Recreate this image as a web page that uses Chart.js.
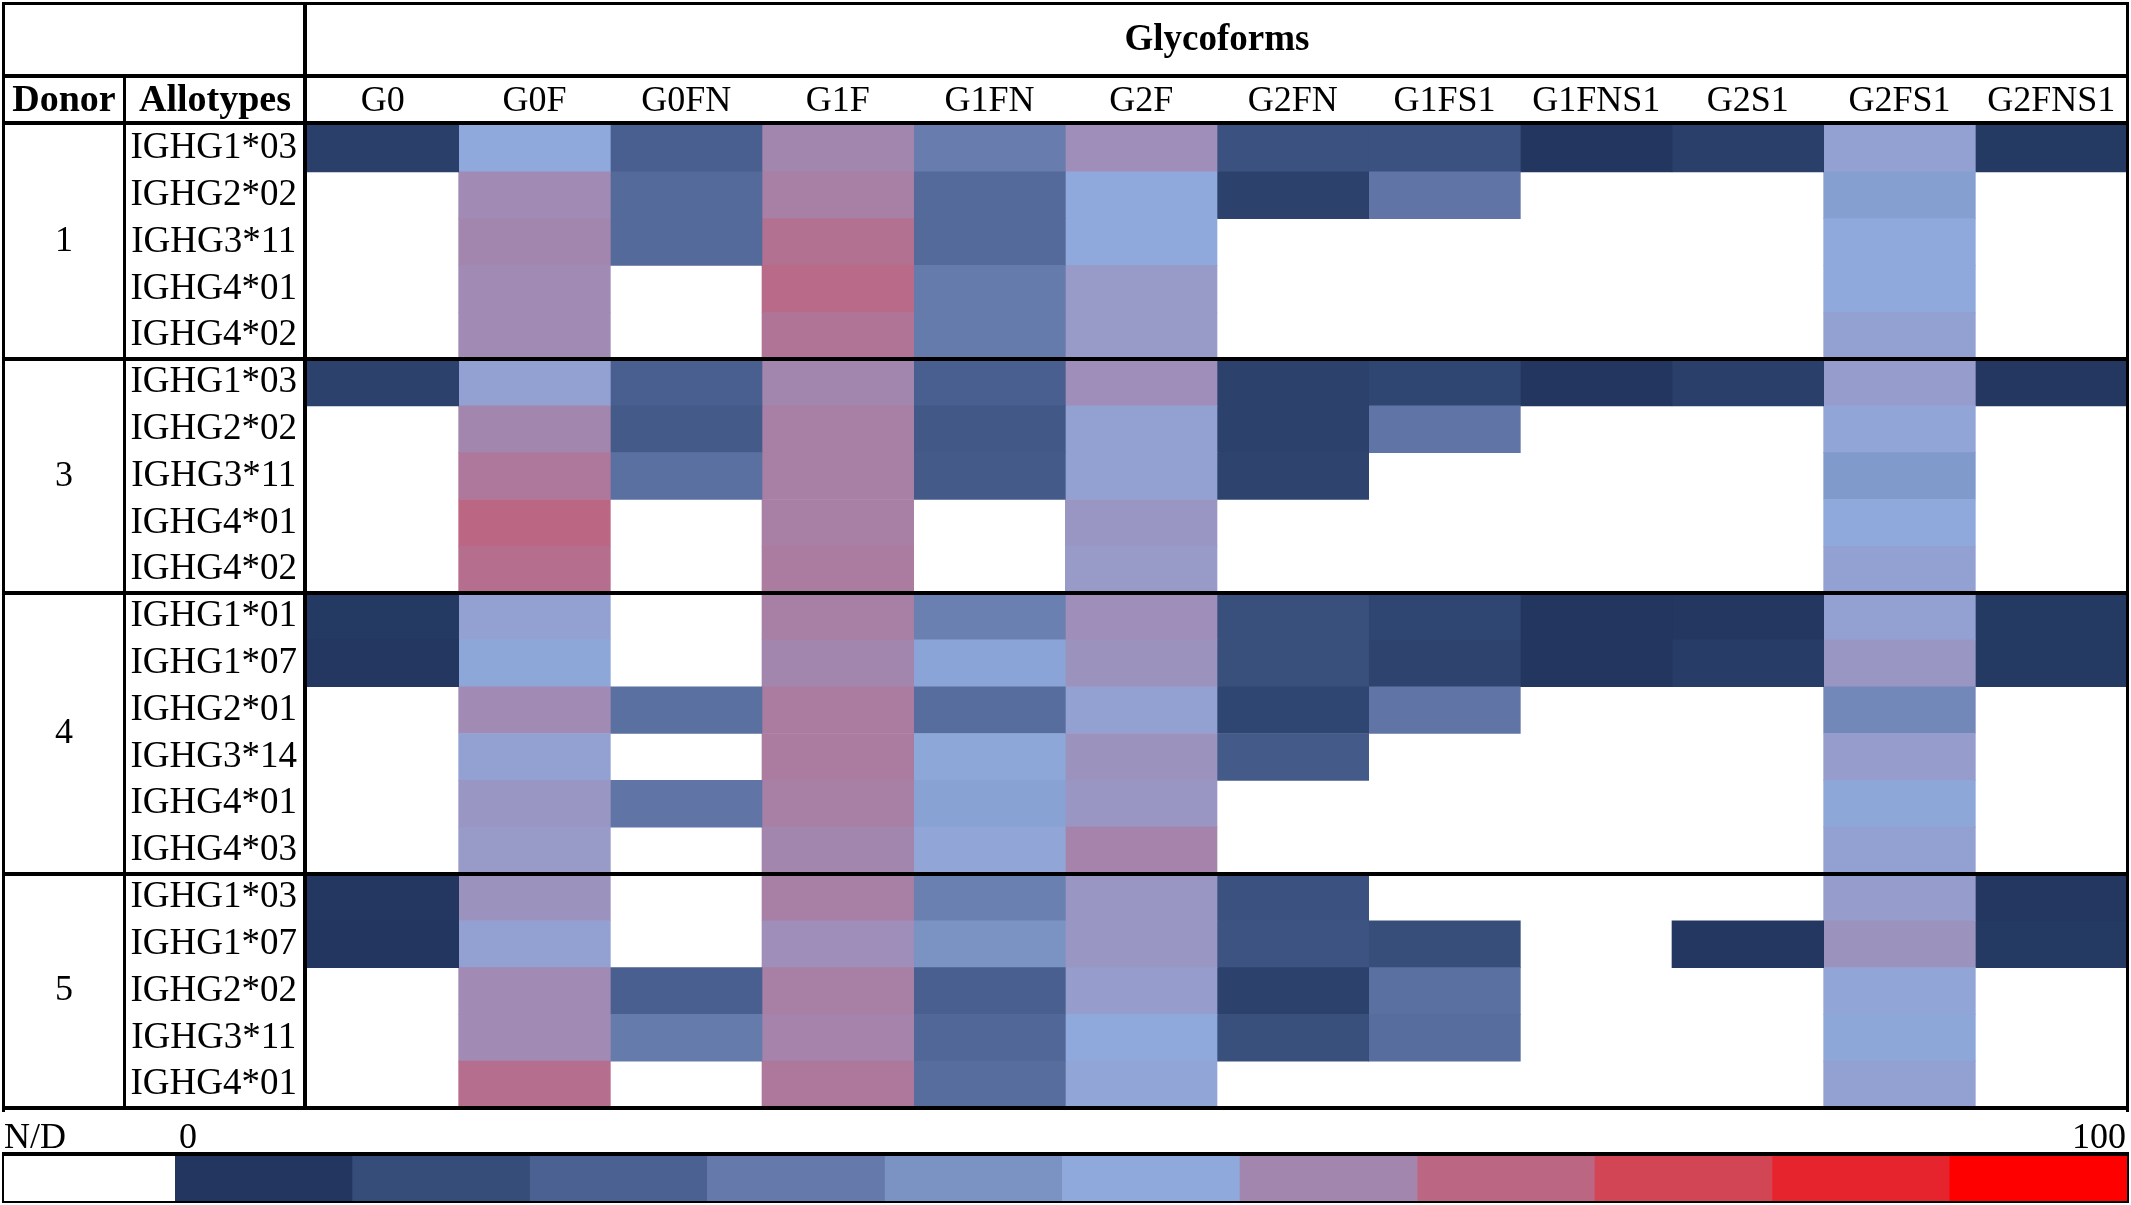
<!DOCTYPE html>
<html><head><meta charset="utf-8">
<script src="https://cdn.jsdelivr.net/npm/chart.js@4.4.1/dist/chart.umd.min.js"></script>
<style>html,body{margin:0;padding:0;background:#fff;}canvas{display:block;}</style>
</head><body>
<canvas id="c" width="2131" height="1205"></canvas>
<script>
// ---- data ----
const glycoforms = ['G0','G0F','G0FN','G1F','G1FN','G2F','G2FN','G1FS1','G1FNS1','G2S1','G2FS1','G2FNS1'];
const donorIds = ['1','3','4','5'];

const donor1Allotypes = ['IGHG1*03','IGHG2*02','IGHG3*11','IGHG4*01','IGHG4*02'];
const donor1Values = [
  [8, 50, 22, 59, 33, 57, 16, 16, 4, 8, 52, 6],
  [null, 58, 26, 61, 26, 50, 9, 30, null, null, 46, null],
  [null, 59, 26, 65, 26, 50, null, null, null, null, 50, null],
  [null, 58, null, 67, 32, 54, null, null, null, null, 50, null],
  [null, 58, null, 64, 32, 54, null, null, null, null, 52, null]
];
const donor3Allotypes = ['IGHG1*03','IGHG2*02','IGHG3*11','IGHG4*01','IGHG4*02'];
const donor3Values = [
  [9, 52, 22, 59, 22, 57, 9, 11, 3, 8, 53, 5],
  [null, 59, 20, 61, 19, 52, 9, 30, null, null, 51, null],
  [null, 63, 28, 61, 20, 52, 10, null, null, null, 44, null],
  [null, 68, null, 61, null, 55, null, null, null, null, 50, null],
  [null, 66, null, 62, null, 54, null, null, null, null, 52, null]
];
const donor4Allotypes = ['IGHG1*01','IGHG1*07','IGHG2*01','IGHG3*14','IGHG4*01','IGHG4*03'];
const donor4Values = [
  [6, 52, null, 61, 34, 57, 15, 11, 4, 5, 52, 6],
  [5, 49, null, 59, 48, 56, 15, 10, 4, 7, 55, 6],
  [null, 58, 28, 62, 27, 52, 11, 30, null, null, 37, null],
  [null, 52, null, 62, 49, 56, 20, null, null, null, 53, null],
  [null, 55, 30, 61, 47, 55, null, null, null, null, 49, null],
  [null, 54, null, 59, 51, 60, null, null, null, null, 52, null]
];
const donor5Allotypes = ['IGHG1*03','IGHG1*07','IGHG2*02','IGHG3*11','IGHG4*01'];
const donor5Values = [
  [5, 56, null, 61, 34, 55, 16, null, null, null, 53, 5],
  [4, 52, null, 57, 41, 55, 17, 14, null, 5, 56, 6],
  [null, 58, 22, 61, 22, 53, 9, 28, null, null, 51, null],
  [null, 58, 32, 60, 25, 50, 15, 27, null, null, 49, null],
  [null, 66, null, 63, 27, 51, null, null, null, null, 52, null]
];
// colour scale (0 -> 100), N/D shown white
const scaleColors = ['#22365f','#364d7a','#4a6191','#657aaa','#7a93c3','#8fa9dc','#a386ae','#bb6682','#d24555','#e6242e','#ff0000'];
const legendLabels = ['N/D','0','100'];

// ---- build ----
const allotypeGroups = [donor1Allotypes, donor3Allotypes, donor4Allotypes, donor5Allotypes];
const valueGroups = [donor1Values, donor3Values, donor4Values, donor5Values];
const rowLabels = allotypeGroups.flat();
const rowValues = valueGroups.flat();

function hexRgb(h){return [1,3,5].map(i=>parseInt(h.substr(i,2),16));}
const stopRgb = scaleColors.map(hexRgb);
function colorFor(v){
  const n = stopRgb.length;
  const pos = v/100*n - 0.5;
  if (pos <= 0) return scaleColors[0];
  if (pos >= n-1) return scaleColors[n-1];
  const i = Math.floor(pos), f = pos - i;
  const a = stopRgb[i], b = stopRgb[i+1];
  const c = a.map((x,k)=>Math.round(x + (b[k]-x)*f));
  return 'rgb(' + c.join(',') + ')';
}

const FONT = '"Liberation Serif","Times New Roman",serif';

const datasets = glycoforms.map((g, j) => ({
  label: g,
  data: rowValues.map(r => r[j] == null ? null : [j, j + 1]),
  backgroundColor: rowValues.map(r => r[j] == null ? 'rgba(0,0,0,0)' : colorFor(r[j])),
  borderWidth: 0,
  grouped: false,
  barPercentage: 1,
  categoryPercentage: 1
}));

const tablePlugin = {
  id: 'tableDeco',
  afterDraw(chart) {
    const ctx = chart.ctx;
    const {left: L, right: R, top: T, bottom: B} = chart.chartArea;
    const ys = chart.scales.y;
    const h = ys.getPixelForValue(1) - ys.getPixelForValue(0);
    ctx.save();
    ctx.fillStyle = '#000';
    // outer frame and header lines
    ctx.fillRect(2, 2, R, 3);
    ctx.fillRect(2, 2, 3, B + 2);
    ctx.fillRect(R - 1, 2, 3, B + 2);
    ctx.fillRect(2, 74, R, 4);
    ctx.fillRect(2, T - 4, R, 4);
    ctx.fillRect(123, 76, 3, B - 74);
    ctx.fillRect(L - 4, 2, 4, B);
    // group separators
    let k = 0;
    const groupCenters = [];
    allotypeGroups.forEach((g) => {
      const y0 = ys.getPixelForValue(k) - h / 2;
      const y1 = ys.getPixelForValue(k + g.length - 1) + h / 2;
      groupCenters.push((y0 + y1) / 2);
      k += g.length;
      ctx.fillRect(2, Math.round(y1) - 2, R, 4);
    });
    // texts
    ctx.textBaseline = 'middle';
    ctx.textAlign = 'center';
    ctx.font = 'bold 37px ' + FONT;
    ctx.fillText('Glycoforms', (L + R) / 2, 40);
    ctx.font = 'bold 38px ' + FONT;
    ctx.fillText('Donor', 64, 101);
    ctx.fillText('Allotypes', 215, 101);
    ctx.font = '36px ' + FONT;
    donorIds.forEach((d, i) => ctx.fillText(d, 64, groupCenters[i]));
    // legend colour bar
    const cbTop = 1155, cbBot = 1202, cbL = 3, cbNd = 175, cbR = R;
    const cw = (cbR - cbNd) / scaleColors.length;
    scaleColors.forEach((c, i) => {
      ctx.fillStyle = c;
      ctx.fillRect(cbNd + i * cw, cbTop, cw + 0.5, cbBot - cbTop);
    });
    ctx.fillStyle = '#000';
    ctx.fillRect(cbL - 1, cbTop - 3, cbR - cbL + 3, 4);
    ctx.fillRect(cbL - 1, cbBot - 1, cbR - cbL + 3, 2);
    ctx.fillRect(cbL - 1, cbTop - 3, 2, cbBot - cbTop + 3);
    ctx.fillRect(cbR, cbTop - 3, 2, cbBot - cbTop + 3);
    ctx.font = '36px ' + FONT;
    ctx.textAlign = 'left';
    ctx.fillText(legendLabels[0], 4, 1139);
    ctx.fillText(legendLabels[1], cbNd + 4, 1139);
    ctx.textAlign = 'right';
    ctx.fillText(legendLabels[2], cbR - 1, 1139);
    ctx.restore();
  }
};

new Chart(document.getElementById('c'), {
  type: 'bar',
  data: { labels: rowLabels, datasets },
  options: {
    indexAxis: 'y',
    responsive: false,
    animation: false,
    devicePixelRatio: 1,
    layout: { padding: { left: 0, right: 4, top: 0, bottom: 97 } },
    plugins: { legend: { display: false }, tooltip: { enabled: false } },
    scales: {
      x: {
        type: 'linear', position: 'top', min: 0, max: glycoforms.length,
        grid: { display: false, drawTicks: false }, border: { display: false },
        afterBuildTicks: s => { s.ticks = glycoforms.map((g, i) => ({ value: i + 0.5 })); },
        afterFit: s => { s.height = 125; },
        ticks: { autoSkip: false, maxRotation: 0, padding: 2, color: '#000',
                 font: { family: FONT, size: 36 }, callback: (v, i) => glycoforms[i] }
      },
      y: {
        type: 'category', offset: true,
        grid: { display: false, drawTicks: false }, border: { display: false },
        afterFit: s => { s.width = 307; },
        ticks: { autoSkip: false, crossAlign: 'center', padding: 10, color: '#000',
                 font: { family: FONT, size: 37 } }
      }
    }
  },
  plugins: [tablePlugin]
});
</script>
</body></html>
